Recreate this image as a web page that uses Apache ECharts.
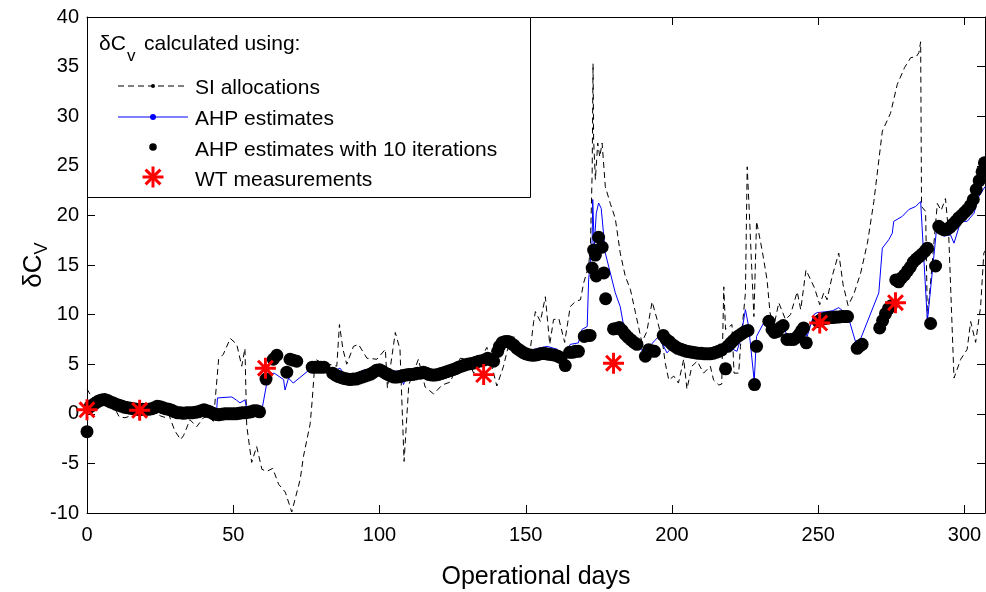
<!DOCTYPE html>
<html>
<head>
<meta charset="utf-8">
<script src="https://cdn.jsdelivr.net/npm/echarts@6/dist/echarts.min.js"></script>
<style>
html,body{margin:0;padding:0;background:#fff;}
#chart{width:986px;height:592px;}
</style>
</head>
<body>
<div id="chart"></div>
<script>
// ---- data: [operational day, deltaCv] ----
const siAllocations = [
[0,2.5],[1,2.0],[3,1.2],[6,1.2],[9,0.8],[11,-0.3],[13,-0.4],[15,-0.2],[17,0.3],[20,0.3],[23,0.2],[25,-0.2],[27,-0.4],[28,-0.1],
[30,-1.7],[32,-2.6],[33,-2.2],[35.2,-0.6],[37.5,-1.3],[39.8,-0.4],[41.5,-0.3],[43.2,-0.75],[45,5.5],[46.6,6.0],[49,7.6],[51.2,7.0],
[52.9,4.8],[54,6.6],[54.6,-1.2],[56.3,-4.9],[58,-3.3],[59.8,-5.6],[61.5,-5.8],[63.5,-5.5],[65.5,-7.1],[67.8,-7.9],[70,-9.9],[72.9,-6.6],
[74,-4.3],[76.3,-1.0],[77,1.4],[78,5.5],[80,5.2],[85.4,4.8],[86.3,9.0],[87.5,6.5],[88.8,5.0],[91.1,6.8],[92.8,7.0],[95.7,5.6],[99.1,5.5],
[102,6.5],[102.7,2.6],[105.4,8.2],[107,6.5],[108.4,-4.8],[110,2.9],[113.3,5.5],[115.6,2.7],[118.5,2.0],[121.4,2.9],[124.2,3.2],[127.6,5.6],
[130,5.5],[132.2,4.1],[136.7,6.7],[138.4,4.8],[140.1,2.8],[142.4,4.8],[143.6,6.3],[145.8,8.0],[147,6.0],[149,5.6],[151.6,6.6],[152.7,9.3],
[153.3,10.3],[155,9.3],[156.7,11.8],[158.2,7.0],[159.5,9.5],[161.3,9.6],[163.3,7.2],[165.2,10.8],[166.9,11.3],[168.7,11.5],[169.8,13.2],
[171.5,14.9],[172.1,16.9],[172.7,24.3],[173,35.3],[173.2,27.6],[173.8,23.6],[174.6,27.3],[175.3,25.9],[176.1,27.3],[177.2,22.9],[178.9,21.2],
[180.6,19.7],[182.3,16.2],[184,13.9],[185.8,12.5],[187.5,10.2],[189.7,7.2],[191.4,8.3],[193.2,11.3],[194.9,9.5],[196.6,7.5],[197.7,5.1],
[198.9,3.4],[200.6,3.8],[202.2,3.1],[204,5.5],[205.1,2.5],[206.8,4.8],[208.6,5.3],[210.8,4.1],[213.1,4.8],[214.2,3.4],[216,2.9],[217,3.0],
[217.7,12.8],[218.3,8.5],[220.5,9.0],[221.2,4.1],[222.8,4.1],[223.4,6.8],[225.1,12.2],[225.7,24.9],[226.4,20.5],[227.2,15.0],[228,9.8],
[228.9,19.4],[230.8,16.5],[232.5,13.5],[233.5,10.2],[234.8,8.8],[236.5,11.2],[238.8,9.5],[240.5,10.0],[242.8,12.3],[244,10.5],[245.8,14.5],
[248.7,12.7],[250.5,11.0],[251.9,12.2],[253,11.5],[254.7,13.8],[257,16.2],[258.5,13.0],[260.2,10.9],[262.2,12.1],[264.5,14.2],[266.8,17.2],
[269,21.4],[271.9,28.5],[274.7,30.3],[277,33.2],[279.5,34.9],[281.6,35.9],[283.5,36.0],[284.4,36.4],[285,37.5],[285.3,20.9],[286.7,20.4],
[287.3,9.5],[290.7,21.2],[292,20.5],[293.5,21.7],[294.6,18.0],[296.4,3.6],[298.7,5.5],[300.9,6.5],[302.1,9.3],[303.8,7.2],[305.5,10.8],
[306.6,16.2],[307.2,16.5]
];

const ahpEstimates = [
[0,0.4],[2,0.9],[5,1.4],[8,1.2],[12,0.8],[16,0.5],[20,0.45],[24,0.7],[28,0.45],[32,0.1],[36,0.05],[40,0.3],[44.3,0.2],[44.6,1.6],
[49.5,1.7],[51,1.4],[52.3,1.1],[54,1.4],[54.7,0.4],[59.8,0.4],[62,3.96],[64,4.1],[67.2,3.45],[67.7,2.4],[68.9,3.6],[70.5,3.1],[76.3,4.5],
[78.6,4.96],[80.8,4.8],[85.4,4.45],[86.5,4.6],[88,4.0],[90,3.8],[94.5,4.4],[99.1,4.6],[102.5,4.3],[107,4.3],[108.2,2.95],[109.4,3.9],
[114,4.4],[118,4.0],[125,4.5],[130,5.0],[135,5.3],[138,5.5],[139,5.8],[140.2,5.0],[141,6.5],[143,7.1],[146,6.8],[150,6.2],[152.7,6.5],
[157.3,6.8],[160.8,6.5],[163,5.3],[165.2,7.0],[168,7.15],[169.2,8.5],[171,8.8],[171.5,13.5],[172.7,17.5],[172.9,21.6],[173.4,16.9],
[174.1,20.2],[174.9,21.25],[175.8,20.7],[177.2,16.2],[178.9,14.2],[180.6,12.2],[182.3,10.8],[183.5,8.8],[185.8,8.0],[190.3,6.14],
[195.4,7.8],[198.3,6.14],[200,6.7],[205,6.3],[210,6.0],[215,6.2],[217.7,6.0],[218.8,6.8],[222.2,6.3],[223.4,7.5],[225.1,10.5],[226.2,8.8],
[228.1,3.3],[228.9,7.8],[232.5,9.83],[234.5,8.7],[236,8.3],[238.2,8.8],[239.4,7.8],[243.4,7.9],[245,8.66],[246.2,7.8],[248.5,10.0],
[249.6,10.2],[253,10.3],[255,10.4],[257,10.7],[260,10.0],[262.7,7.3],[264.4,7.5],[270.7,12.2],[271.9,16.7],[274.1,17.55],[275.3,18.2],
[275.8,19.4],[278.7,19.9],[281,20.6],[283.3,20.9],[285,21.4],[287.3,9.33],[287.8,9.3],[290.7,19.4],[292.9,17.9],[295.2,18.05],
[296.4,17.2],[298.7,19.4],[300.9,19.4],[303.2,20.2],[304.9,21.9],[307,22.9]
];

const ahpIterated = [
[0,-1.8],[1,0.7],[2,0.9],[3,1.1],[4,1.3],[5,1.4],[6,1.45],[7,1.35],[8,1.2],[9,1.1],[10,0.95],[11,0.85],[12,0.75],[13,0.65],[14,0.6],
[15,0.55],[16,0.5],[17,0.45],[18,0.45],[19,0.45],[20,0.45],[21,0.45],[22,0.5],[23,0.6],[24,0.75],[25,0.72],[26,0.6],[27,0.5],[28,0.45],
[29,0.35],[30,0.2],[31,0.1],[32,0.1],[33,0.05],[34,0.1],[35,0.1],[36,0.1],[37,0.15],[38,0.2],[39,0.3],[40,0.4],[41,0.3],[42,0.2],
[43,0.05],[44,-0.05],[45,-0.1],[46,-0.05],[47,0],[48,0],[49,0],[50,0],[51,0],[52,0.05],[53,0.1],[54,0.1],[55,0.15],[56,0.2],[57,0.3],
[58,0.3],[59,0.2],
[61.2,3.5],[63.7,5.5],[64.9,5.9],[68.3,4.2],[69.4,5.5],[70.5,5.4],[71.7,5.3],
[77,4.7],[78,4.7],[79,4.7],[80,4.7],[81,4.7],
[84,4.1],[85,3.9],[86,3.75],[87,3.65],[88,3.55],[89,3.5],[90,3.45],[91,3.5],[92,3.5],[93,3.6],[94,3.7],[95,3.8],[96,3.9],[97,4.0],
[98,4.2],[99,4.4],[100,4.45],[101,4.3],[102,4.1],[103,3.95],[104,3.8],[105,3.7],[106,3.7],[107,3.75],[108,3.85],[109,3.9],[110,3.95],
[111,3.95],[112,4.0],[113,4.1],[114,4.1],[115,4.2],[116,4.1],[117,3.95],[118,3.9],[119,3.9],[120,3.95],[121,4.05],[122,4.15],[123,4.25],
[124,4.35],[125,4.45],[126,4.55],[127,4.7],[128,4.8],[129,4.9],[130,5.0],[131,5.05],[132,5.1],[133,5.2],[134,5.3],[135,5.35],[136,5.45],
[137,5.6],[138,5.45],[139,5.3],
[140.4,6.3],[141,6.8],[142,7.2],[143,7.3],[144,7.3],[145,7.1],[146,6.9],[147,6.6],[148,6.4],[149,6.2],[150,6.05],[151,5.95],[152,5.9],
[153,5.9],[154,5.95],[155,6.05],[156,6.1],[157,6.05],[158,6.0],[159,5.95],[160,5.9],[161,5.8],[162,5.65],[163.5,4.86],
[165,6.2],[166,6.2],[167,6.3],[168,6.3],[170,7.8],[171,7.9],[172,7.9],
[172.7,14.7],[173.2,16.5],[173.8,16.0],[174.1,13.9],[174.9,17.8],[176.1,16.8],[176.7,14.2],[177.3,11.6],
[180,8.56],[181,8.6],[182,8.7],[183,8.4],[184,8.0],[185,7.7],[186,7.45],[187,7.2],[188,7.0],
[190.9,5.8],[192,6.45],[193,6.35],[194,6.3],
[197,7.9],[198,7.5],[199,7.3],[200,7.0],[201,6.8],[202,6.6],[203,6.5],[204,6.4],[205,6.3],[206,6.25],[207,6.2],[208,6.15],[209,6.1],
[210,6.1],[211,6.05],[212,6.05],[213,6.05],[214,6.1],[215,6.2],[216,6.3],[217,6.45],[218.3,4.53],
[219,6.8],[220,7.1],[221,7.4],[222,7.7],[223,7.9],[224,8.1],[225,8.3],[226,8.4],
[228.2,2.95],[228.9,6.8],
[233.1,9.33],[234.2,8.5],[235,8.2],[236,8.3],[237,8.7],[238,8.9],
[239.3,7.5],[240.5,7.5],[241.6,7.5],[242.6,7.7],[243.5,8.0],[244.3,8.4],[245,8.66],[245.9,7.15],
[250,9.3],[251,9.5],[252,9.6],[253,9.65],[254,9.7],[255,9.7],[256,9.75],[257,9.75],[258,9.8],[259,9.8],[260,9.8],
[263.3,6.6],[264,6.8],[265,7.0],
[271,8.66],[272,9.4],[273,10.1],[274,10.6],[275,10.9],
[276.5,13.5],[277.5,13.3],[278.5,13.7],[279.5,14.0],[280.5,14.4],[281.5,14.8],[282.5,15.3],[283.5,15.6],[284.5,15.85],[285.5,16.1],
[286.5,16.4],[287.3,16.7],
[288.4,9.1],[290.1,14.9],
[291.2,18.9],[292,18.7],[293,18.55],[294,18.6],[295,18.8],[296,19.1],[297,19.4],[298,19.75],[299,20.0],[300,20.3],[301,20.6],[302,21.0],
[303,21.6],[304,22.6],[305,23.5],[306,24.4],[306.8,25.3]
];

const wtMeasurements = [[0,0.4],[18,0.35],[61,4.6],[135.6,3.95],[180,5.1],[250.5,9.15],[276.4,11.2]];

const xTicks = [0, 50, 100, 150, 200, 250, 300];
const legendLabels = ['SI allocations', 'AHP estimates', 'AHP estimates with 10 iterations', 'WT measurements'];

// ---- chart ----
const FONT = '"Liberation Sans", Arial, Helvetica, sans-serif';
const STAR = 'path://M0 43L100 43L100 57L0 57Z M43 0L57 0L57 100L43 100Z M19.55 9.65L90.35 80.45L80.45 90.35L9.65 19.55Z M90.35 19.55L19.55 90.35L9.65 80.45L80.45 9.65Z';
const chart = echarts.init(document.getElementById('chart'), null, {renderer: 'canvas'});

const axisCommon = {
  axisLine: {show: true, onZero: false, lineStyle: {color: '#000', width: 1}},
  axisTick: {show: true, inside: true, length: 8, lineStyle: {color: '#000', width: 1}},
  splitLine: {show: false}
};

const LX = 118, LX2 = 188, LDOT = 153, LTXT = 195;
const rows = [88, 119, 150, 180];

function starArm(rot) {
  return {type: 'rect', z: 103, shape: {x: -10.5, y: -1.5, width: 21, height: 3}, rotation: rot, style: {fill: '#ff0000'}};
}

const option = {
  backgroundColor: '#fff',
  animation: false,
  grid: {left: 87, right: 1, top: 17, bottom: 79, containLabel: false, outerBoundsMode: 'none'},
  xAxis: [
    Object.assign({}, axisCommon, {
      type: 'value', min: 0, max: 307, interval: 50, position: 'bottom',
      axisLabel: {show: true, fontSize: 20, color: '#000', fontFamily: FONT, margin: 12,
        formatter: v => (xTicks.indexOf(v) >= 0 ? String(v) : '')},
      name: 'Operational days', nameLocation: 'middle', nameGap: 52, nameMoveOverlap: false,
      nameTextStyle: {fontSize: 25, color: '#000', fontFamily: FONT}
    }),
    Object.assign({}, axisCommon, {
      type: 'value', min: 0, max: 307, interval: 50, position: 'top',
      axisLabel: {show: false}
    })
  ],
  yAxis: [
    Object.assign({}, axisCommon, {
      type: 'value', min: -10, max: 40, interval: 5, position: 'left',
      axisLabel: {show: true, fontSize: 20, color: '#000', fontFamily: FONT, margin: 8},
      name: '{a|δC}{b|V}', nameLocation: 'middle', nameGap: 36, nameRotate: 90, nameMoveOverlap: false,
      nameTextStyle: {
        rich: {
          a: {fontSize: 26, color: '#000', fontFamily: FONT, lineHeight: 30, verticalAlign: 'top'},
          b: {fontSize: 18, color: '#000', fontFamily: FONT, lineHeight: 14, verticalAlign: 'bottom'}
        }
      }
    }),
    Object.assign({}, axisCommon, {
      type: 'value', min: -10, max: 40, interval: 5, position: 'right',
      axisLabel: {show: false}
    })
  ],
  series: [
    {
      name: legendLabels[0], type: 'line', xAxisIndex: 0, yAxisIndex: 0,
      data: siAllocations, showSymbol: false, symbol: 'none', z: 2,
      lineStyle: {color: '#000', width: 1, type: [6, 4]}
    },
    {
      name: legendLabels[1], type: 'line', xAxisIndex: 0, yAxisIndex: 0,
      data: ahpEstimates, showSymbol: false, symbol: 'none', z: 3,
      lineStyle: {color: '#0000ff', width: 1}
    },
    {
      name: legendLabels[2], type: 'scatter', xAxisIndex: 0, yAxisIndex: 0,
      data: ahpIterated, symbol: 'circle', symbolSize: 13, z: 4,
      itemStyle: {color: '#000', opacity: 1}
    },
    {
      name: legendLabels[3], type: 'scatter', xAxisIndex: 0, yAxisIndex: 0,
      data: wtMeasurements, symbol: STAR, symbolSize: 21, z: 5,
      itemStyle: {color: '#ff0000', opacity: 1}
    }
  ],
  graphic: [
    {type: 'rect', z: 100, shape: {x: 87.5, y: 17.5, width: 443, height: 180},
      style: {fill: '#fff', stroke: '#000', lineWidth: 1}},
    {type: 'text', z: 101, x: 99, y: 44, style: {text: 'δC', fontSize: 21, fontFamily: FONT, fill: '#000', verticalAlign: 'middle'}},
    {type: 'text', z: 101, x: 127, y: 56, style: {text: 'v', fontSize: 17, fontFamily: FONT, fill: '#000', verticalAlign: 'middle'}},
    {type: 'text', z: 101, x: 144, y: 44, style: {text: 'calculated using:', fontSize: 21, fontFamily: FONT, fill: '#000', verticalAlign: 'middle'}},
    {type: 'line', z: 101, shape: {x1: LX, y1: 86, x2: LX2, y2: 86}, style: {stroke: '#000', lineWidth: 1, lineDash: [6, 4]}},
    {type: 'circle', z: 102, shape: {cx: LDOT, cy: 86, r: 2}, style: {fill: '#000'}},
    {type: 'line', z: 101, shape: {x1: LX, y1: 117, x2: LX2, y2: 117}, style: {stroke: '#0000ff', lineWidth: 1}},
    {type: 'circle', z: 102, shape: {cx: LDOT, cy: 117, r: 3}, style: {fill: '#0000ff'}},
    {type: 'circle', z: 102, shape: {cx: LDOT, cy: 147, r: 3.8}, style: {fill: '#000'}},
    {type: 'group', z: 103, x: LDOT, y: 177, children: [starArm(0), starArm(Math.PI / 2), starArm(Math.PI / 4), starArm(-Math.PI / 4)]},
    {type: 'text', z: 101, x: LTXT, y: rows[0], style: {text: legendLabels[0], fontSize: 21, fontFamily: FONT, fill: '#000', verticalAlign: 'middle'}},
    {type: 'text', z: 101, x: LTXT, y: rows[1], style: {text: legendLabels[1], fontSize: 21, fontFamily: FONT, fill: '#000', verticalAlign: 'middle'}},
    {type: 'text', z: 101, x: LTXT, y: rows[2], style: {text: legendLabels[2], fontSize: 21, fontFamily: FONT, fill: '#000', verticalAlign: 'middle'}},
    {type: 'text', z: 101, x: LTXT, y: rows[3], style: {text: legendLabels[3], fontSize: 21, fontFamily: FONT, fill: '#000', verticalAlign: 'middle'}}
  ]
};
chart.setOption(option);
</script>
</body>
</html>
